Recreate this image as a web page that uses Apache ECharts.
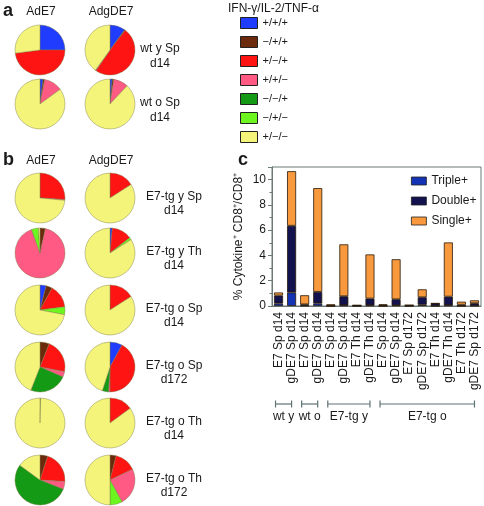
<!DOCTYPE html>
<html><head><meta charset="utf-8">
<script src="https://cdn.jsdelivr.net/npm/echarts@6/dist/echarts.min.js"></script>
<style>html,body{margin:0;padding:0;background:#fff}#c{width:484px;height:506px}</style>
</head><body><div id="c"></div>
<script>
// ---- Pie data (order of categories below) ----
const cats = ['+/+/+', '\u2212/+/+', '+/\u2212/+', '+/+/\u2212', '\u2212/\u2212/+', '\u2212/+/\u2212', '+/\u2212/\u2212'];
const catColors = ['#1f3cff', '#6b2a0c', '#ff1414', '#ff5a84', '#149a14', '#6cf51e', '#f4f47a'];
// panel a
const a_wtySp_AdE7   = [25, 0, 48, 0, 0, 0, 27];
const a_wtySp_AdgDE7 = [10, 0.5, 49, 0.5, 0, 0, 40];
const a_wtoSp_AdE7   = [2, 1, 0, 12, 0, 0, 85];
const a_wtoSp_AdgDE7 = [1.5, 1, 0, 9.5, 0, 0, 88];
// panel b
const b_tgySp14_AdE7   = [0, 0, 26, 0.5, 0, 0, 73.5];
const b_tgySp14_AdgDE7 = [0, 0, 16, 0, 0, 0, 84];
const b_tgyTh14_AdE7   = [0, 3.5, 0, 91, 0, 4.5, 1];
const b_tgyTh14_AdgDE7 = [1.5, 0, 13, 0, 0, 1.5, 84];
const b_tgoSp14_AdE7   = [4, 4, 15, 0, 0, 5, 72];
const b_tgoSp14_AdgDE7 = [0, 0, 16, 0, 0, 0, 84];
const b_tgoSp172_AdE7   = [0, 6, 22, 3.5, 24.5, 0, 44];
const b_tgoSp172_AdgDE7 = [8, 0, 42, 1, 4, 0, 45];
const b_tgoTh14_AdE7   = [0, 0, 0, 0, 0, 0.4, 99.6];
const b_tgoTh14_AdgDE7 = [0, 0, 15, 0, 0, 0, 85];
const b_tgoTh172_AdE7   = [0, 5, 21, 5, 54, 0, 15];
const b_tgoTh172_AdgDE7 = [0, 4, 14, 24, 0, 8, 50];

const colHeads = ['AdE7', 'AdgDE7'];
const aRowLabels = [['wt y Sp', 'd14'], ['wt o Sp', 'd14']];
const bRowLabels = [['E7-tg y Sp', 'd14'], ['E7-tg y Th', 'd14'], ['E7-tg o Sp', 'd14'],
                    ['E7-tg o Sp', 'd172'], ['E7-tg o Th', 'd14'], ['E7-tg o Th', 'd172']];

// ---- Bar data ----
const barCats = ['E7 Sp d14', 'gDE7 Sp d14', 'E7 Sp d14', 'gDE7 Sp d14', 'E7 Sp d14', 'gDE7 Sp d14',
  'E7 Th d14', 'gDE7 Th d14', 'E7 Sp d14', 'gDE7 Sp d14', 'E7 Sp d172', 'gDE7 Sp d172',
  'E7 Th d14', 'gDE7 Th d14', 'E7 Th d172', 'gDE7 Sp d172'];
const triple = [0.2, 1.07, 0.03, 0.2, 0, 0.05, 0, 0.05, 0, 0.05, 0, 0.1, 0, 0.05, 0, 0.02];
const double = [0.63, 5.28, 0.1, 0.92, 0.04, 0.72, 0.05, 0.54, 0.06, 0.48, 0.06, 0.59, 0.2, 0.69, 0.1, 0.2];
const single = [0.24, 4.32, 0.72, 8.21, 0.09, 4.11, 0.01, 3.49, 0.07, 3.17, 0.01, 0.63, 0.01, 4.29, 0.24, 0.23];
const yTicks = [0, 2, 4, 6, 8, 10];
const groups = [['wt y', 0, 1], ['wt o', 2, 3], ['E7-tg y', 4, 7], ['E7-tg o', 8, 15]];

const FONT = "'Liberation Sans', Arial, Helvetica, sans-serif";
const chart = echarts.init(document.getElementById('c'), null, {renderer: 'canvas'});

const colX = [40, 110];
const aRowY = [50, 104];
const bRowY = [198, 253, 310, 367, 423, 480];
const pieSets = [
  [a_wtySp_AdE7, a_wtySp_AdgDE7], [a_wtoSp_AdE7, a_wtoSp_AdgDE7]
];
const pieSetsB = [
  [b_tgySp14_AdE7, b_tgySp14_AdgDE7], [b_tgyTh14_AdE7, b_tgyTh14_AdgDE7],
  [b_tgoSp14_AdE7, b_tgoSp14_AdgDE7], [b_tgoSp172_AdE7, b_tgoSp172_AdgDE7],
  [b_tgoTh14_AdE7, b_tgoTh14_AdgDE7], [b_tgoTh172_AdE7, b_tgoTh172_AdgDE7]
];

function pieSeries(vals, cx, cy) {
  return {
    type: 'pie', center: [cx, cy], radius: 25, silent: true, animation: false,
    startAngle: 90, clockwise: true,
    label: {show: false}, labelLine: {show: false},
    itemStyle: {borderColor: 'rgba(120,120,70,0.7)', borderWidth: 0.6},
    data: cats.map((c, i) => ({name: c, value: vals[i], itemStyle: {color: catColors[i]}})).filter(d => d.value > 0)
  };
}

const series = [];
pieSets.forEach((row, r) => row.forEach((v, c) => series.push(pieSeries(v, colX[c], aRowY[r]))));
pieSetsB.forEach((row, r) => row.forEach((v, c) => series.push(pieSeries(v, colX[c], bRowY[r]))));

const barStyle = {borderColor: '#2a1a0a', borderWidth: 0.8};
series.push({type: 'bar', name: 'Triple+', stack: 's', data: triple, barWidth: 9, xAxisIndex: 0, yAxisIndex: 0,
  itemStyle: Object.assign({color: '#1432b4'}, barStyle), animation: false});
series.push({type: 'bar', name: 'Double+', stack: 's', data: double, barWidth: 9,
  itemStyle: Object.assign({color: '#12124e'}, barStyle), animation: false});
series.push({type: 'bar', name: 'Single+', stack: 's', data: single, barWidth: 9,
  itemStyle: Object.assign({color: '#f7993c'}, barStyle), animation: false});

const g = [];
function txt(id, s, x, y, size, opts) {
  g.push(Object.assign({type: 'text', id: id, silent: true, style: Object.assign({
    text: s, x: x, y: y, fill: '#1a1a1a', font: (opts && opts.bold ? 'bold ' : '') + size + 'px ' + FONT,
    textAlign: 'center', textVerticalAlign: 'middle'}, (opts && opts.style) || {})}));
}
txt('la', 'a', 3, 11, 18, {bold: true, style: {textAlign: 'left'}});
txt('lb', 'b', 3, 160, 18, {bold: true, style: {textAlign: 'left'}});
txt('lc', 'c', 238, 160, 18, {bold: true, style: {textAlign: 'left'}});
colHeads.forEach((h, i) => { txt('ha' + i, h, colX[i] + 1, 12, 12); txt('hb' + i, h, colX[i] + 1, 161, 12); });
aRowLabels.forEach((l, i) => { txt('ra' + i + 'a', l[0], 160, aRowY[i] - 1, 12); txt('ra' + i + 'b', l[1], 160, aRowY[i] + 14, 12); });
bRowLabels.forEach((l, i) => { txt('rb' + i + 'a', l[0], 174, bRowY[i] - 1, 12); txt('rb' + i + 'b', l[1], 174, bRowY[i] + 13, 12); });
txt('legt', 'IFN-\u03b3/IL-2/TNF-\u03b1', 228, 9, 12, {style: {textAlign: 'left'}});

const option = {
  backgroundColor: '#fff',
  animation: false,
  textStyle: {fontFamily: FONT},
  legend: [
    {data: cats, orient: 'vertical', left: 240, top: 17, padding: 0, itemWidth: 17, itemHeight: 11, itemGap: 7,
      icon: 'rect', selectedMode: false, textStyle: {fontSize: 11, color: '#1a1a1a', fontFamily: FONT},
      itemStyle: {borderColor: '#222', borderWidth: 1}},
    {data: ['Triple+', 'Double+', 'Single+'], orient: 'vertical', left: 411, top: 175, padding: 0,
      itemWidth: 15, itemHeight: 8, itemGap: 8, icon: 'rect', selectedMode: false,
      textStyle: {fontSize: 12, color: '#1a1a1a', fontFamily: FONT}, itemStyle: {borderColor: '#222', borderWidth: 0.8}}
  ],
  grid: {left: 272, top: 167, right: 3, bottom: 200, show: true, borderColor: '#6a7878', borderWidth: 1, containLabel: false},
  xAxis: {type: 'category', data: barCats, boundaryGap: true,
    axisLine: {lineStyle: {color: '#6a7878'}},
    axisTick: {alignWithLabel: true, length: 4, lineStyle: {color: '#6a7878'}},
    axisLabel: {rotate: 90, fontSize: 12, color: '#1a1a1a', margin: 6, interval: 0, fontFamily: FONT}},
  yAxis: {type: 'value', min: 0, max: 11, interval: 2,
    name: '% Cytokine\u207a CD8\u207a/CD8\u207a', nameLocation: 'middle', nameRotate: 90, nameGap: 27,
    nameTextStyle: {fontSize: 12, color: '#1a1a1a', fontFamily: FONT},
    axisLine: {show: true, lineStyle: {color: '#6a7878'}},
    axisTick: {show: true, inside: false, length: 4, lineStyle: {color: '#6a7878'}},
    minorTick: {show: true, splitNumber: 2, length: 2.5, lineStyle: {color: '#6a7878'}},
    splitLine: {show: false},
    axisLabel: {fontSize: 12, color: '#1a1a1a', margin: 6, fontFamily: FONT,
      formatter: v => yTicks.indexOf(v) >= 0 ? String(v) : ''}},
  graphic: {elements: g},
  series: series
};
chart.setOption(option);

// group brackets under bar chart, positioned from category axis
const br = [];
const yb = 404;
groups.forEach((gr, i) => {
  const x1 = chart.convertToPixel({xAxisIndex: 0}, gr[1]) - 3;
  const x2 = chart.convertToPixel({xAxisIndex: 0}, gr[2]);
  const st = {stroke: '#607272', lineWidth: 1.2};
  br.push({type: 'line', id: 'bl' + i, silent: true, shape: {x1: x1, y1: yb, x2: x2, y2: yb}, style: st});
  br.push({type: 'line', id: 'bc' + i + 'a', silent: true, shape: {x1: x1, y1: yb - 3.5, x2: x1, y2: yb + 3.5}, style: st});
  br.push({type: 'line', id: 'bc' + i + 'b', silent: true, shape: {x1: x2, y1: yb - 3.5, x2: x2, y2: yb + 3.5}, style: st});
  br.push({type: 'text', id: 'bt' + i, silent: true, style: {text: gr[0], x: (x1 + x2) / 2, y: yb + 13,
    fill: '#1a1a1a', font: '12px ' + FONT, textAlign: 'center', textVerticalAlign: 'middle'}});
});
chart.setOption({graphic: {elements: g.concat(br)}});
</script></body></html>
